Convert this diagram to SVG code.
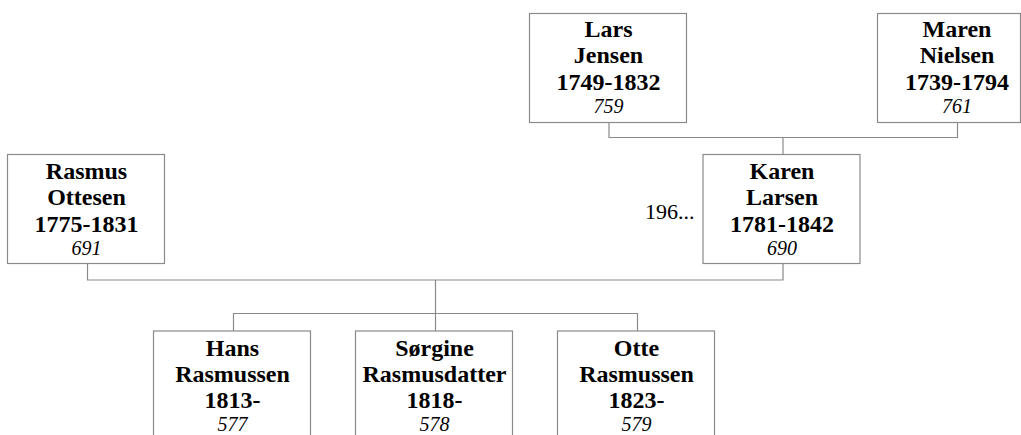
<svg xmlns="http://www.w3.org/2000/svg" width="1021" height="435" viewBox="0 0 1021 435">
<style>
.box{fill:#fff;stroke:#8a8a8a;stroke-width:1.2}
.con{fill:none;stroke:#8a8a8a;stroke-width:1.2}
text{font-family:'Liberation Serif',Tinos,'Times New Roman',Times,'DejaVu Serif',serif;fill:#000}
.n{font-weight:bold;font-size:24px;text-anchor:middle}
.id{font-style:italic;font-size:20px;text-anchor:middle}
.lbl{font-size:22px}
</style>
<g id="connectors">
<polyline class="con" points="609,123 609,137.5 957.5,137.5 957.5,123"/>
<line class="con" x1="783" y1="137.5" x2="783" y2="154"/>
<polyline class="con" points="87.5,264 87.5,280 783,280 783,263.5"/>
<line class="con" x1="435.5" y1="280" x2="435.5" y2="331"/>
<polyline class="con" points="233.5,331 233.5,313.5 637.5,313.5 637.5,331"/>
</g>
<g id="lars">
<rect class="box" x="529.5" y="13.5" width="157" height="109"/>
<text class="n" x="608.5" y="37">Lars</text>
<text class="n" x="608.5" y="63">Jensen</text>
<text class="n" x="608.5" y="90">1749-1832</text>
<text class="id" x="608.5" y="113">759</text>
</g>
<g id="maren">
<rect class="box" x="877.5" y="13.5" width="143" height="109"/>
<text class="n" x="957" y="37">Maren</text>
<text class="n" x="957" y="63">Nielsen</text>
<text class="n" x="957" y="90">1739-1794</text>
<text class="id" x="957" y="113">761</text>
</g>
<g id="rasmus">
<rect class="box" x="7.5" y="154.5" width="157" height="109"/>
<text class="n" x="86.5" y="179">Rasmus</text>
<text class="n" x="86.5" y="205">Ottesen</text>
<text class="n" x="86.5" y="231.5">1775-1831</text>
<text class="id" x="86.5" y="255">691</text>
</g>
<g id="karen">
<rect class="box" x="703" y="154.5" width="157" height="109"/>
<text class="n" x="782" y="179">Karen</text>
<text class="n" x="782" y="205">Larsen</text>
<text class="n" x="782" y="231.5">1781-1842</text>
<text class="id" x="782" y="255">690</text>
</g>
<text id="marriage-label" class="lbl" x="645" y="218.5">196...</text>
<g id="hans">
<rect class="box" x="153.5" y="331" width="157" height="120"/>
<text class="n" x="232.5" y="355.5">Hans</text>
<text class="n" x="232.5" y="381.5">Rasmussen</text>
<text class="n" x="232.5" y="408">1813-</text>
<text class="id" x="232.5" y="431">577</text>
</g>
<g id="sorgine">
<rect class="box" x="355.5" y="331" width="157" height="120"/>
<text class="n" x="434.5" y="355.5">Sørgine</text>
<text class="n" x="434.5" y="381.5">Rasmusdatter</text>
<text class="n" x="434.5" y="408">1818-</text>
<text class="id" x="434.5" y="431">578</text>
</g>
<g id="otte">
<rect class="box" x="557.5" y="331" width="157" height="120"/>
<text class="n" x="636.5" y="355.5">Otte</text>
<text class="n" x="636.5" y="381.5">Rasmussen</text>
<text class="n" x="636.5" y="408">1823-</text>
<text class="id" x="636.5" y="431">579</text>
</g>
</svg>
